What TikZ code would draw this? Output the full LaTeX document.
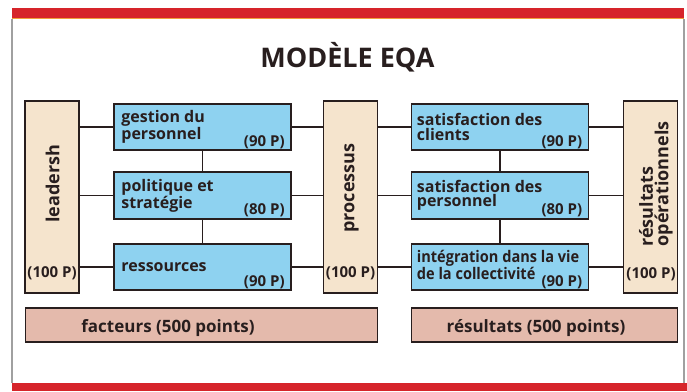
\documentclass[tikz,border=0pt]{standalone}
\usepackage{fontspec}
\setmainfont{Open Sans}
\definecolor{redband}{RGB}{214,36,42}
\definecolor{orangeline}{RGB}{240,160,60}
\definecolor{framegray}{RGB}{160,160,160}
\definecolor{sky}{RGB}{142,210,240}
\definecolor{beige}{RGB}{245,228,205}
\definecolor{pinkbox}{RGB}{228,186,172}
\definecolor{dk}{RGB}{40,30,30}
\tikzset{
  tallbox/.style={draw=dk, line width=1.6pt, fill=beige, inner sep=0pt, minimum width=54pt, minimum height=192pt},
  bluebox/.style={draw=dk, line width=1.6pt, fill=sky, inner sep=0pt, minimum width=177pt, minimum height=46.5pt},
  sumbox/.style={draw=dk, line width=1.6pt, fill=pinkbox, inner sep=0pt, minimum height=34pt},
  conn/.style={draw=dk, line width=1.8pt},
  txt/.style={text=dk, font=\fontsize{16}{14.5}\selectfont\bfseries, align=left, anchor=west, inner sep=0pt},
  pts/.style={text=dk, font=\fontsize{15}{15}\selectfont\bfseries, anchor=south east, inner sep=0pt},
  rot/.style={text=dk, font=\fontsize{18}{15.5}\selectfont\bfseries, rotate=90, inner sep=0pt, align=left},
  sumtxt/.style={text=dk, font=\fontsize{17}{17}\selectfont\bfseries, anchor=base, inner sep=0pt}
}
\begin{document}
\begin{tikzpicture}[x=1pt,y=-1pt]
\useasboundingbox (0,0) rectangle (687,391);
% frame
\fill[redband] (12,8) rectangle (684,18);
\fill[orangeline] (12,18) rectangle (684,19.3);
\draw[framegray, line width=1.3pt] (12,19) -- (12,383);
\draw[framegray, line width=1.3pt] (684,19) -- (684,383);
\fill[redband] (12,383) rectangle (687,391);
% title
\node[text=dk, font=\fontsize{27}{27}\selectfont\bfseries, anchor=base, inner sep=0pt] (title) at (347.5,67) {MODÈLE EQA};
% tall boxes
\node[tallbox] (L) at (52,197) {};
\node[tallbox] (P) at (350.5,197) {};
\node[tallbox] (R) at (650.5,197) {};
% blue boxes
\node[bluebox] (a1) at (202.5,127) {};
\node[bluebox] (a2) at (202.5,195.5) {};
\node[bluebox] (a3) at (202.5,267) {};
\node[bluebox] (c1) at (500,127) {};
\node[bluebox] (c2) at (500,195.5) {};
\node[bluebox] (c3) at (500,267) {};
% connectors
\draw[conn] (L.east |- a1.west) -- (a1.west);
\draw[conn] (L.east |- a2.west) -- (a2.west);
\draw[conn] (L.east |- a3.west) -- (a3.west);
\draw[conn] (a1.east) -- (P.west |- a1.east);
\draw[conn] (a2.east) -- (P.west |- a2.east);
\draw[conn] (a3.east) -- (P.west |- a3.east);
\draw[conn] (P.east |- c1.west) -- (c1.west);
\draw[conn] (P.east |- c2.west) -- (c2.west);
\draw[conn] (P.east |- c3.west) -- (c3.west);
\draw[conn] (c1.east) -- (R.west |- c1.east);
\draw[conn] (c2.east) -- (R.west |- c2.east);
\draw[conn] (c3.east) -- (R.west |- c3.east);
\draw[conn] (a1.south) -- (a2.north);
\draw[conn] (a2.south) -- (a3.north);
\draw[conn] (c1.south) -- (c2.north);
\draw[conn] (c2.south) -- (c3.north);
% tall box texts
\node[rot] (Lt) at (52.5,184) {leadersh};
\node[rot] (Pt) at (351.5,188) {processus};
\node[rot] (Rt) at (656,184) {résultats\\opérationnels};
\node[pts, anchor=center] (Lp) at (52,273) {(100 P)};
\node[pts, anchor=center] (Pp) at (350.5,273) {(100 P)};
\node[pts, anchor=center] (Rp) at (651,274) {(100 P)};
% blue box texts
\node[txt] (a1t) at ([xshift=8pt]a1.west) {gestion du\\personnel};
\node[txt] (a2t) at ([xshift=8pt]a2.west) {politique et\\stratégie};
\node[txt] (a3t) at ([xshift=8pt]a3.west) {ressources};
\node[txt] (c1t) at ([xshift=6pt]c1.west) {satisfaction des\\clients};
\node[txt] (c2t) at ([xshift=6pt]c2.west) {satisfaction des\\personnel};
\node[txt, font=\fontsize{16}{15}\selectfont\bfseries\addfontfeatures{FakeStretch=0.91}] (c3t) at ([xshift=6pt,yshift=2pt]c3.west) {intégration dans la vie\\de la collectivité};
\node[pts] (a1p) at ([xshift=-7pt,yshift=2pt]a1.south east) {(90 P)};
\node[pts] (a2p) at ([xshift=-7pt,yshift=2pt]a2.south east) {(80 P)};
\node[pts] (a3p) at ([xshift=-7pt,yshift=2pt]a3.south east) {(90 P)};
\node[pts] (c1p) at ([xshift=-7pt,yshift=2pt]c1.south east) {(90 P)};
\node[pts] (c2p) at ([xshift=-7pt,yshift=2pt]c2.south east) {(80 P)};
\node[pts] (c3p) at ([xshift=-7pt,yshift=2pt]c3.south east) {(90 P)};
% summary boxes
\node[sumbox, minimum width=352pt] (F) at (201.5,325) {};
\node[sumbox, minimum width=266pt] (S) at (544.5,325) {};
\node[sumtxt] (Ft) at (168,332) {facteurs (500 points)};
\node[sumtxt] (St) at (536,332) {résultats (500 points)};
\end{tikzpicture}
\end{document}
